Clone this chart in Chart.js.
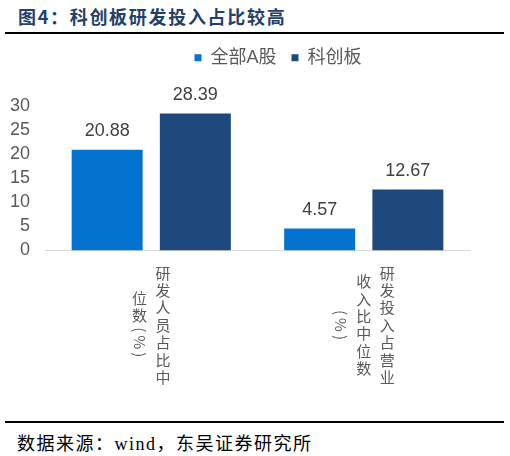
<!DOCTYPE html>
<html>
<head>
<meta charset="utf-8">
<script src="https://cdn.jsdelivr.net/npm/chart.js@4.4.1/dist/chart.umd.min.js"></script>
<style>
  html, body { margin: 0; padding: 0; background: #fff; }
  body { width: 510px; height: 456px; position: relative; overflow: hidden; }
  #title { position: absolute; left: 18px; top: 3px; font: bold 18px "Noto Sans CJK SC", sans-serif; color: #243F6B; letter-spacing: 1.7px; white-space: nowrap; }
  .rule { position: absolute; left: 5px; width: 499px; height: 2px; background: #000; }
  #wrap { position: absolute; left: 0; top: 36px; width: 510px; height: 382px; }
  #source { position: absolute; left: 17px; top: 429px; font: 18px "Liberation Serif", "Noto Sans CJK SC", serif; color: #000; letter-spacing: 1.5px; white-space: nowrap; }
</style>
</head>
<body>
<div id="title">图4：科创板研发投入占比较高</div>
<div class="rule" style="top:32px"></div>
<div id="wrap"><canvas id="chart"></canvas></div>
<div class="rule" style="top:421px"></div>
<div id="source">数据来源：wind，东吴证券研究所</div>
<script>
// category labels, one string per vertical column (right column first)
var categories = [
  ["研发人员占比中", "位数（%）"],
  ["研发投入占营业", "收入比中位数", "（%）"]
];
var seriesNames = ["全部A股", "科创板"];
var allAShares = [20.88, 4.57];
var starMarket = [28.39, 12.67];
var yTicks = [0, 5, 10, 15, 20, 25, 30];

var TICK_COLOR = "#595959";

// value above each bar
var valueLabels = {
  id: "valueLabels",
  afterDatasetsDraw: function (chart) {
    var ctx = chart.ctx;
    ctx.save();
    ctx.font = "18px 'Liberation Sans', Arial, sans-serif";
    ctx.fillStyle = "#404040";
    ctx.textAlign = "center";
    ctx.textBaseline = "middle";
    chart.data.datasets.forEach(function (ds, di) {
      chart.getDatasetMeta(di).data.forEach(function (bar, i) {
        ctx.fillText(ds.data[i].toFixed(2), bar.x, bar.y - 18.5);
      });
    });
    ctx.restore();
  }
};

// stacked (upright) category text, like Excel's vertical text;
// brackets and % are turned sideways as in the original
var verticalLabels = {
  id: "verticalLabels",
  afterDraw: function (chart) {
    var ctx = chart.ctx;
    var xs = chart.scales.x;
    var cy = chart.chartArea.bottom + 74.5;
    var step = 17.4;
    var sideways = { "（": ["(", 11], "）": [")", 11], "%": ["%", 14] };
    ctx.save();
    ctx.font = "15px 'Noto Sans CJK SC', sans-serif";
    ctx.fillStyle = TICK_COLOR;
    ctx.textAlign = "center";
    ctx.textBaseline = "middle";
    categories.forEach(function (cols, i) {
      var cx = xs.getPixelForValue(i);
      cols.forEach(function (col, j) {
        var x = cx + ((cols.length - 1) / 2 - j) * 23.5;
        var chars = Array.from(col);
        var total = 0;
        chars.forEach(function (ch) {
          total += sideways[ch] ? sideways[ch][1] : step;
        });
        var y = cy - total / 2;
        chars.forEach(function (ch) {
          var s = sideways[ch];
          var len = s ? s[1] : step;
          if (s) {
            ctx.save();
            ctx.translate(x, y + len / 2);
            ctx.rotate(Math.PI / 2);
            ctx.fillText(s[0], 0, 0);
            ctx.restore();
          } else {
            ctx.fillText(ch, x, y + len / 2);
          }
          y += len;
        });
      });
    });
    ctx.restore();
  }
};

// move the legend to where the original sits
var legendPlace = {
  id: "legendPlace",
  afterLayout: function (chart) {
    var lg = chart.legend;
    if (!lg) return;
    lg.left += 38;
    lg.right += 38;
    lg.top -= 29;
    lg.bottom -= 29;
  }
};

document.addEventListener("DOMContentLoaded", function () {
  var ctx = document.getElementById("chart").getContext("2d");
  new Chart(ctx, {
    type: "bar",
    data: {
      labels: categories.map(function (c) { return c.join(""); }),
      datasets: [
        { label: seriesNames[0], data: allAShares, backgroundColor: "#0373CF" },
        { label: seriesNames[1], data: starMarket, backgroundColor: "#1F497D" }
      ]
    },
    options: {
      responsive: true,
      maintainAspectRatio: false,
      animation: false,
      layout: { padding: { left: 10, right: 40, top: 26.8, bottom: 0 } },
      datasets: { bar: { categoryPercentage: 0.83, barPercentage: 0.805 } },
      plugins: {
        tooltip: { enabled: false },
        legend: {
          position: "top",
          labels: {
            font: { family: "'Liberation Sans', 'Noto Sans CJK SC', sans-serif", size: 18 },
            color: TICK_COLOR,
            boxWidth: 7,
            boxHeight: 7,
            padding: 15
          }
        }
      },
      scales: {
        x: {
          grid: { display: false, drawTicks: false },
          border: { display: true, color: "#D9D9D9", width: 1 },
          ticks: { display: false },
          afterFit: function (scale) { scale.height = 167.5; }
        },
        y: {
          min: yTicks[0],
          max: yTicks[yTicks.length - 1],
          grid: { display: false, drawTicks: false },
          border: { display: false },
          ticks: {
            stepSize: yTicks[1] - yTicks[0],
            autoSkip: false,
            padding: 15,
            color: TICK_COLOR,
            font: { family: "'Liberation Sans', Arial, sans-serif", size: 18 }
          },
          afterFit: function (scale) { scale.width = 35; }
        }
      }
    },
    plugins: [valueLabels, verticalLabels, legendPlace]
  });
});
</script>
</body>
</html>
